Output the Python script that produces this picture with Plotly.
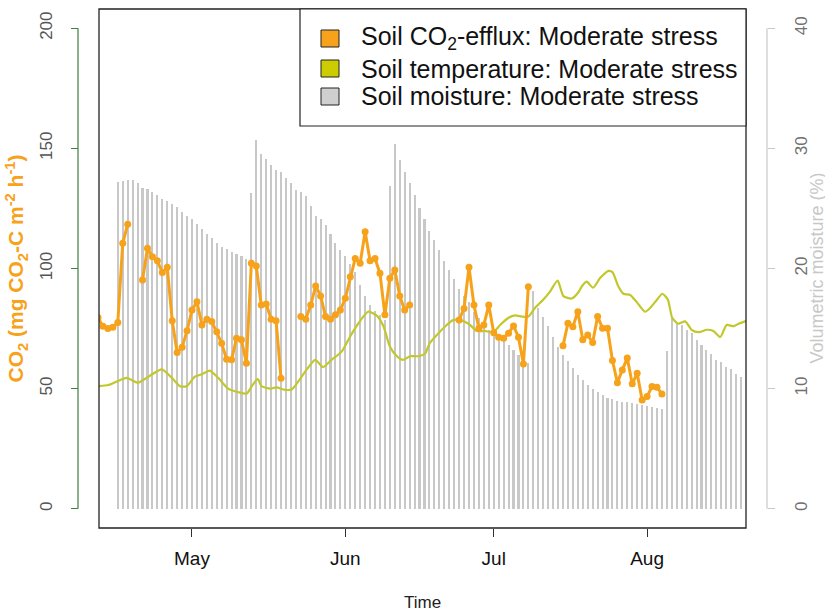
import pandas as pd
import plotly.graph_objects as go

# ---------------------------------------------------------------------------
# Data
# ---------------------------------------------------------------------------
# Daily soil CO2 efflux (mg CO2-C m-2 h-1) starting 12 April; None = no measurement
co2_start = "2015-04-12"
co2_flux = [
    79.5, 76.0, 75.0, 75.5, 77.5, 110.5, 118.4, None, None,
    95.2, 108.4, 104.9, 103.2, 98.3, 100.5, 78.3, 65.0, 67.2, 74.1,
    82.7, 86.2, 76.5, 78.9, 77.9, 73.7, 68.9, 62.2, 62.0, 71.0,
    70.3, 60.6, 102.2, 101.0, 84.8, 85.2, 78.9, 78.3, 54.3,
    None, None, None,
    80.0, 78.9, 84.8, 92.7, 88.6, 80.0, 78.9, 80.7, 82.7, 87.6,
    96.6, 104.2, 102.2, 115.3, 103.2, 104.2, 98.0, 80.7, 95.9, 99.4,
    88.6, 82.7, 84.8,
    None, None, None, None, None, None, None, None, None,
    78.6, 83.4, 100.5, 84.8, 75.1, 76.5, 84.8, 73.3, 71.4, 71.0,
    73.1, 76.1, 71.4, 60.3, 92.4,
    None, None, None, None, None, None,
    67.8, 77.2, 75.8, 82.0, 70.3, 72.3, 69.2, 80.0, 75.1, 75.1,
    61.7, 52.5, 57.8, 62.7, 52.0, 56.4, 45.3, 46.7, 50.9, 50.6, 47.8,
]

# Daily volumetric soil moisture (%) starting 16 April
moisture_start = "2015-04-16"
soil_moisture = [
    27.2, 27.3, 27.4, 27.4, 27.1, 26.7, 26.6, 26.4, 26.1, 25.8,
    25.6, 25.4, 25.1, 24.7, 24.4,
    24.1, 23.7, 23.3, 22.9, 22.5, 22.1, 21.8, 21.6, 21.4, 21.2,
    21.0, 20.8,
    26.3, 30.7, 29.5, 29.1, 28.6, 28.2, 28.0, 27.5, 27.1, 26.5,
    26.4, 26.0, 25.2, 24.4, 24.1, 23.6, 22.9, 22.1, 21.5, 21.0,
    20.4, 19.7, 18.6, 17.7, 17.0, 16.5, 16.1, 15.7,
    26.9, 30.4, 29.0, 28.0, 27.1, 26.1, 25.0, 24.1, 23.1, 22.4,
    21.5, 20.6, 19.9, 19.1, 18.3, 17.7, 17.2, 16.4, 15.9,
    15.2, 14.9, 14.6, 14.3, 14.0, 13.6, 13.2, 12.8, 12.4, 12.1,
    18.1, 16.7, 16.0, 15.2, 14.3, 13.5, 12.8, 12.3, 11.7, 11.1,
    10.7, 10.3, 10.0, 9.75, 9.5, 9.2, 9.1, 9.0, 8.9, 8.85,
    8.8, 8.7, 8.65, 8.55, 8.5, 8.4, 8.3,
    13.1, 16.0, 15.4, 15.3, 14.9, 14.6, 14.05, 13.6, 13.2, 12.9,
    12.4, 12.2, 11.8, 11.6, 11.2, 11.0,
]

# Soil temperature (degC) record
temp_time = [
    "2015-04-12 00:00", "2015-04-14 02:00", "2015-04-15 19:00", "2015-04-17 19:00",
    "2015-04-20 02:00", "2015-04-22 05:00", "2015-04-24 22:00", "2015-04-26 22:00",
    "2015-04-28 14:00", "2015-04-29 22:00", "2015-05-01 14:00", "2015-05-03 00:00",
    "2015-05-04 14:00", "2015-05-06 07:00", "2015-05-08 07:00", "2015-05-10 10:00",
    "2015-05-12 02:00", "2015-05-13 02:00", "2015-05-14 07:00", "2015-05-15 02:00",
    "2015-05-16 19:00", "2015-05-18 02:00", "2015-05-19 19:00", "2015-05-21 05:00",
    "2015-05-22 12:00", "2015-05-24 05:00", "2015-05-25 22:00", "2015-05-27 12:00",
    "2015-05-29 05:00", "2015-05-31 07:00", "2015-06-01 22:00", "2015-06-03 14:00",
    "2015-06-05 14:00", "2015-06-07 07:00", "2015-06-08 17:00", "2015-06-10 00:00",
    "2015-06-11 10:00", "2015-06-12 17:00", "2015-06-14 02:00", "2015-06-15 19:00",
    "2015-06-17 02:00", "2015-06-18 02:00", "2015-06-19 19:00", "2015-06-21 12:00",
    "2015-06-22 19:00", "2015-06-24 05:00", "2015-06-25 22:00", "2015-06-27 14:00",
    "2015-06-29 05:00", "2015-06-30 22:00", "2015-07-02 07:00", "2015-07-04 00:00",
    "2015-07-05 07:00", "2015-07-06 17:00", "2015-07-08 00:00", "2015-07-09 07:00",
    "2015-07-11 00:00", "2015-07-12 10:00", "2015-07-13 22:00", "2015-07-15 02:00",
    "2015-07-16 19:00", "2015-07-18 02:00", "2015-07-18 19:00", "2015-07-19 19:00",
    "2015-07-21 02:00", "2015-07-22 12:00", "2015-07-24 05:00", "2015-07-25 00:00",
    "2015-07-26 05:00", "2015-07-27 05:00", "2015-07-28 14:00", "2015-07-29 22:00",
    "2015-07-31 14:00", "2015-08-01 14:00", "2015-08-03 00:00", "2015-08-04 02:00",
    "2015-08-05 05:00", "2015-08-06 02:00", "2015-08-07 07:00", "2015-08-08 17:00",
    "2015-08-10 00:00", "2015-08-11 10:00", "2015-08-13 02:00", "2015-08-14 10:00",
    "2015-08-15 19:00", "2015-08-17 02:00", "2015-08-18 12:00", "2015-08-19 12:00",
    "2015-08-20 19:00", "2015-08-21 12:00",
]
soil_temp = [
    10.2, 10.3, 10.6, 10.9, 10.5, 11.0, 11.6, 10.9, 10.2, 10.2,
    11.0, 11.2, 11.5, 10.9, 10.0, 9.7, 9.6, 10.2, 10.8, 10.2,
    10.0, 10.1, 9.9, 9.95, 10.6, 11.6, 12.4, 11.8, 12.4, 13.1,
    14.3, 15.4, 16.4, 16.1, 15.2, 13.5, 12.7, 12.4, 12.7, 12.7,
    12.9, 13.8, 14.6, 15.3, 15.7, 15.7, 15.4, 14.8, 14.8, 14.7,
    15.3, 15.9, 16.1, 16.0, 16.0, 16.7, 17.4, 18.1, 19.0, 17.7,
    17.5, 18.0, 18.5, 18.9, 18.4, 19.2, 19.8, 19.7, 18.5, 17.9,
    17.8, 17.2, 16.4, 16.7, 17.4, 17.9, 17.4, 15.9, 15.4, 15.6,
    14.9, 14.7, 14.9, 14.8, 14.3, 15.3, 15.2, 15.4, 15.6, 15.7,
]

month_ticks = ["2015-05-01", "2015-06-01", "2015-07-01", "2015-08-01"]
month_labels = ["May", "Jun", "Jul", "Aug"]
co2_ticks = [0, 50, 100, 150, 200]
moisture_ticks = [0, 10, 20, 30, 40]

legend_labels = [
    "Soil CO<sub>2</sub>-efflux: Moderate stress",
    "Soil temperature: Moderate stress",
    "Soil moisture: Moderate stress",
]

# ---------------------------------------------------------------------------
# Styling
# ---------------------------------------------------------------------------
ORANGE = "#F7A21B"
OLIVE = "#C2C72C"
OLIVE_KEY = "#CCCC00"
BAR_GREY = "#C8C8C8"
AXIS_GREEN = "#3F7F3F"
FONT = "Liberation Sans, Arial, sans-serif"

W, H = 825, 612
M_L, M_R, M_T, M_B = 78, 58, 9, 84
PW = W - M_L - M_R
PH = H - M_T - M_B


def px_x(x):
    return (x - M_L) / PW


def px_y(y):
    return (H - M_B - y) / PH


co2_dates = pd.date_range(co2_start, periods=len(co2_flux), freq="D")
moist_dates = pd.date_range(moisture_start, periods=len(soil_moisture), freq="D")
temp_dates = pd.to_datetime(temp_time)

fig = go.Figure()

# moisture as thin daily bars (right axis)
fig.add_trace(go.Bar(
    x=moist_dates, y=soil_moisture, yaxis="y",
    width=0.42 * 86400000,
    marker=dict(color=BAR_GREY, line=dict(width=0)),
    showlegend=False, hoverinfo="x+y",
))

# soil temperature line (right axis units)
fig.add_trace(go.Scatter(
    x=temp_dates, y=soil_temp, yaxis="y", mode="lines",
    line=dict(color=OLIVE, width=2.2, shape="spline", smoothing=0.6),
    showlegend=False,
))

# CO2 efflux with points (left axis)
fig.add_trace(go.Scatter(
    x=co2_dates, y=co2_flux, yaxis="y2", mode="lines+markers",
    line=dict(color=ORANGE, width=3),
    marker=dict(color=ORANGE, size=7),
    connectgaps=False, showlegend=False,
))

shapes = [
    # plot frame
    dict(type="rect", xref="x domain", yref="paper", x0=0, x1=1, y0=0, y1=1,
         line=dict(color="#222222", width=1.3), layer="above"),
    # left axis line spanning the tick range
    dict(type="line", xref="paper", yref="y2", x0=0, x1=0, y0=0, y1=200,
         line=dict(color=AXIS_GREEN, width=1.2)),
    # right axis line spanning the tick range
    dict(type="line", xref="paper", yref="y", x0=1, x1=1, y0=0, y1=40,
         line=dict(color="#C8C8C8", width=1.2)),
    # legend frame
    dict(type="rect", xref="paper", yref="paper",
         x0=px_x(300), x1=px_x(746), y0=px_y(126), y1=1,
         fillcolor="white", line=dict(color="#222222", width=1.2), layer="above"),
]

key_colors = [ORANGE, OLIVE_KEY, "#CFCFCF"]
key_rows = [38.5, 68.5, 96.5]
annotations = []
for col, yc, lab in zip(key_colors, key_rows, legend_labels):
    shapes.append(dict(
        type="rect", xref="paper", yref="paper",
        x0=px_x(321), x1=px_x(339), y0=px_y(yc + 8.5), y1=px_y(yc - 8.5),
        fillcolor=col, line=dict(color="#222222", width=1), layer="above",
    ))
    annotations.append(dict(
        xref="paper", yref="paper", x=px_x(359), y=px_y(yc),
        xanchor="left", yanchor="middle", text=lab, showarrow=False,
        font=dict(family=FONT, size=25, color="#111111"),
    ))

annotations += [
    dict(xref="paper", yref="paper", x=px_x(16), y=0.5, textangle=-90,
         text="<b>CO<sub>2</sub> (mg CO<sub>2</sub>-C m<sup>-2</sup> h<sup>-1</sup>)</b>",
         showarrow=False, xanchor="center", yanchor="middle",
         font=dict(family=FONT, size=21, color=ORANGE)),
    dict(xref="paper", yref="paper", x=px_x(816), y=0.5, textangle=-90,
         text="Volumetric moisture (%)", showarrow=False,
         xanchor="center", yanchor="middle",
         font=dict(family=FONT, size=18, color="#C8C8C8")),
    dict(xref="paper", yref="paper", x=px_x(422), y=px_y(602),
         text="Time", showarrow=False, xanchor="center", yanchor="middle",
         font=dict(family=FONT, size=17, color="#222222")),
]

fig.update_layout(
    width=W, height=H,
    margin=dict(l=M_L, r=M_R, t=M_T, b=M_B, pad=0),
    paper_bgcolor="white", plot_bgcolor="white",
    font=dict(family=FONT),
    bargap=0,
    showlegend=False,
    xaxis=dict(
        type="date",
        domain=[px_x(99), px_x(746)],
        range=["2015-04-12 04:48", "2015-08-21 00:00"],
        tickvals=month_ticks, ticktext=month_labels,
        ticks="outside", ticklen=8, tickwidth=1.2, tickcolor="#333333",
        ticklabelstandoff=5,
        tickfont=dict(family=FONT, size=19, color="#111111"),
        showgrid=False, showline=False, zeroline=False,
    ),
    yaxis=dict(
        range=[-1.6, 41.6], side="right", anchor="free", position=1,
        tickvals=moisture_ticks, ticks="outside", ticklen=7, tickwidth=1.2,
        tickcolor="#C8C8C8", tickangle=-90, ticklabelstandoff=12,
        tickfont=dict(family=FONT, size=17, color="#707070"),
        showgrid=False, showline=False, zeroline=False,
    ),
    yaxis2=dict(
        range=[-8, 208], side="left", overlaying="y", anchor="free", position=0,
        tickvals=co2_ticks, ticks="outside", ticklen=7, tickwidth=1.2,
        tickcolor=AXIS_GREEN, tickangle=-90, ticklabelstandoff=12,
        tickfont=dict(family=FONT, size=17, color="#555555"),
        showgrid=False, showline=False, zeroline=False,
    ),
    shapes=shapes,
    annotations=annotations,
)

fig.write_html("out.html")
